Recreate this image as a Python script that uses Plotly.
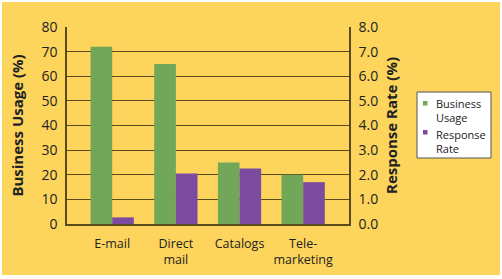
import plotly.graph_objects as go

categories = ["E-mail", "Direct<br>mail", "Catalogs", "Tele-<br>marketing"]
business_usage = [72, 65, 25, 20]
response_rate = [0.27, 2.05, 2.25, 1.7]
left_ticks = [0, 10, 20, 30, 40, 50, 60, 70, 80]
right_ticks = [0.0, 1.0, 2.0, 3.0, 4.0, 5.0, 6.0, 7.0, 8.0]
series_names = ["Business<br>Usage", "Response<br>Rate"]

W, H = 502, 279
ml, mr, mt, mb = 67, 153, 27, 55
pw, ph = W - ml - mr, H - mt - mb

yellow = "#FDD55C"
grid = "#5A4C1C"
green = "#72A658"
purple = "#7B4BA0"
font = "'Open Sans', sans-serif"

fig = go.Figure()
fig.add_trace(go.Bar(x=categories, y=business_usage, name=series_names[0],
                     marker=dict(color=green, line=dict(width=0)), yaxis="y", offsetgroup="a"))
fig.add_trace(go.Bar(x=categories, y=response_rate, name=series_names[1],
                     marker=dict(color=purple, line=dict(width=0)), yaxis="y2", offsetgroup="b"))

def px2x(px):
    return (px - ml) / pw

def px2y(py):
    return (H - mb - py) / ph

def rect(x0, y0, x1, y1, fill, line=None):
    return dict(type="rect", xref="paper", yref="paper", x0=px2x(x0), x1=px2x(x1),
                y0=px2y(y1), y1=px2y(y0), fillcolor=fill,
                line=line or dict(width=0), layer="above")

shapes = [
    rect(0, 0, W, 2, "white"),
    rect(0, 275, W, H, "white"),
    rect(0, 0, 2, H, "white"),
    rect(500, 0, W, H, "white"),
    # legend box and swatches
    rect(417, 92, 491, 158, "white", dict(color="#555555", width=1)),
    rect(423, 101, 427.5, 105.5, green),
    rect(423, 130, 427.5, 134.5, purple),
]

annotations = [
    dict(xref="paper", yref="paper", x=px2x(434), y=px2y(111), xanchor="left", yanchor="middle",
         text=series_names[0], showarrow=False, align="left",
         font=dict(family=font, size=11, color="#222222")),
    dict(xref="paper", yref="paper", x=px2x(434), y=px2y(141), xanchor="left", yanchor="middle",
         text=series_names[1], showarrow=False, align="left",
         font=dict(family=font, size=11, color="#222222")),
]

fig.update_layout(
    width=W, height=H,
    margin=dict(l=ml, r=mr, t=mt, b=mb, autoexpand=False),
    paper_bgcolor=yellow, plot_bgcolor=yellow,
    barmode="group", bargap=0.32, bargroupgap=0,
    font=dict(family=font, color="#222222", size=13),
    showlegend=False,
    xaxis=dict(range=[-0.71, 3.72], showgrid=False, ticks="", showline=True,
               linecolor=grid, linewidth=1.5, mirror=False, tickangle=0, automargin=False,
               tickfont=dict(size=12.5), ticklabelstandoff=7),
    yaxis=dict(range=[0, 80], tickvals=left_ticks, ticktext=[str(v) for v in left_ticks],
               showgrid=True, gridcolor=grid, gridwidth=1, showline=True, linecolor=grid,
               linewidth=1.5, zeroline=False, ticks="", ticklabelstandoff=5, automargin=False,
               tickfont=dict(size=14),
               title=dict(text="<b>Business Usage (%)</b>", font=dict(size=15), standoff=14)),
    yaxis2=dict(range=[0, 8], overlaying="y", side="right", tickvals=right_ticks,
                ticktext=[f"{v:.1f}" for v in right_ticks], showgrid=False,
                showline=True, linecolor=grid, linewidth=1.5, zeroline=False, ticks="",
                ticklabelstandoff=5, tickfont=dict(size=14), automargin=False,
                title=dict(text="<b>Response Rate (%)</b>", font=dict(size=15), standoff=9)),
    shapes=shapes,
    annotations=annotations,
)

fig.write_html("out.html")
